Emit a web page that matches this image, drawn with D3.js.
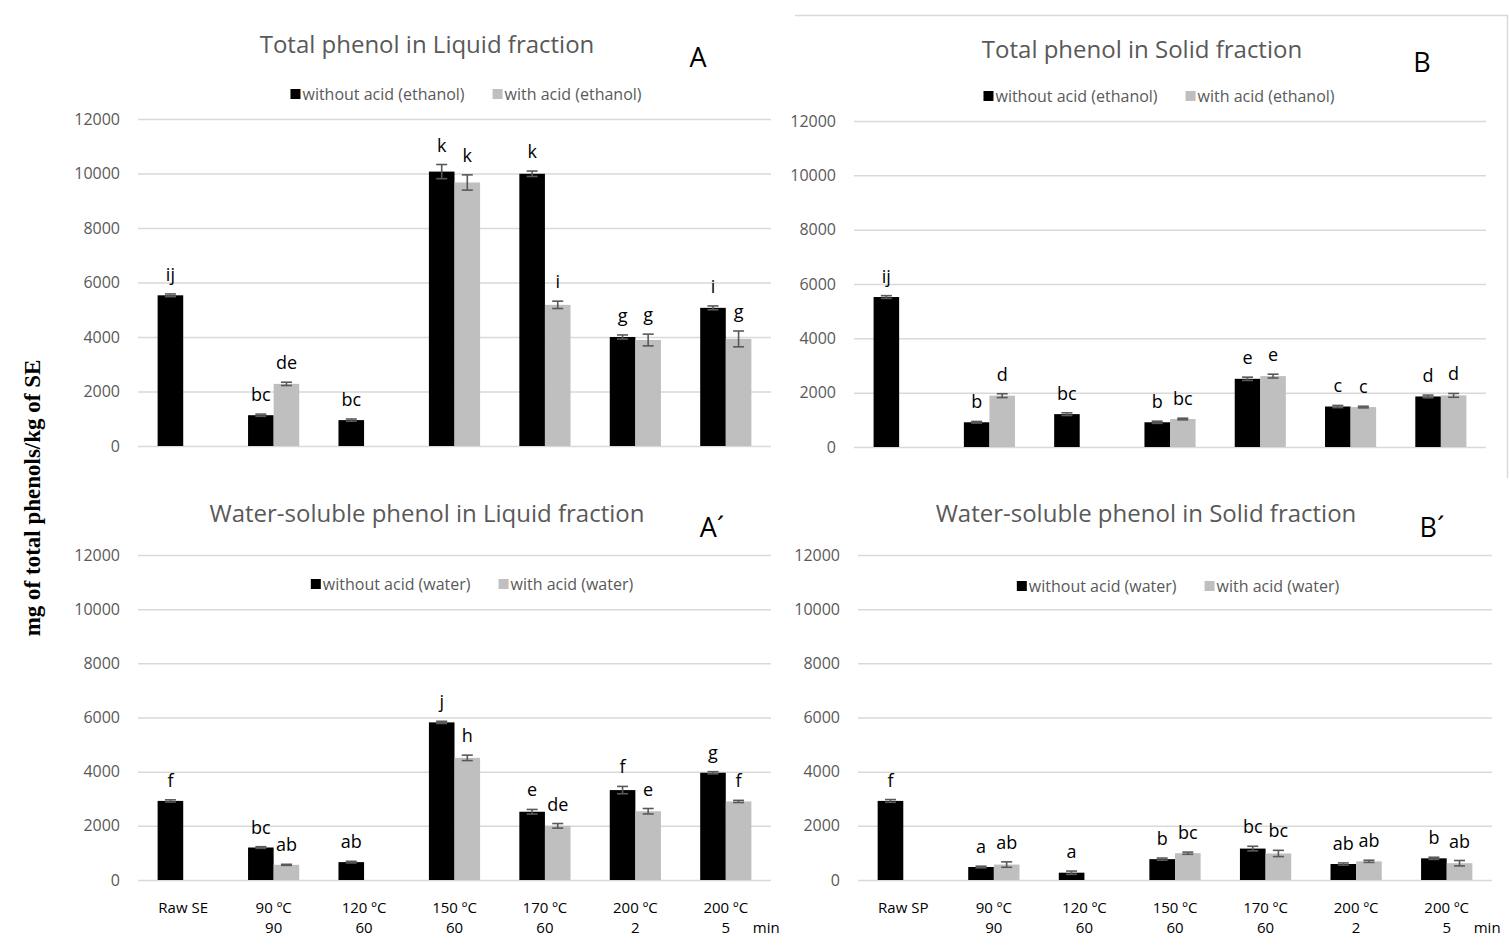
<!DOCTYPE html>
<html>
<head>
<meta charset="utf-8">
<script src="https://cdn.jsdelivr.net/npm/d3@7/dist/d3.min.js"></script>
<style>
  html, body { margin: 0; padding: 0; background: #fff; }
  svg { display: block; }
  text { font-family: "Open Sans", Lato, sans-serif; }
  text.axis-title { font-family: "Liberation Serif", "Times New Roman", serif; font-weight: bold; }
</style>
</head>
<body>
<svg id="chart" width="1509" height="945"></svg>
<script>
// Treatment categories (temperature / time in min)
const tempLabels = ["", "90 ºC", "120 ºC", "150 ºC", "170 ºC", "200 ºC", "200 ºC"];
const timeLabels = ["", "90", "60", "60", "60", "2", "5"];
const rawLabelLiquid = "Raw SE";
const rawLabelSolid = "Raw SP";
const yTicks = [0, 2000, 4000, 6000, 8000, 10000, 12000];

// A: total phenol, liquid fraction (ethanol)
const liquidTotalNoAcid    = [5530, 1130, 950, 10070, 9990, 4000, 5070];
const liquidTotalNoAcidSd  = [50, 40, 40, 260, 100, 75, 70];
const liquidTotalAcid      = [null, 2280, null, 9670, 5180, 3890, 3930];
const liquidTotalAcidSd    = [null, 60, null, 280, 135, 215, 290];
const liquidTotalNoAcidSig = ["ij", "bc", "bc", "k", "k", "g", "i"];
const liquidTotalAcidSig   = [null, "de", null, "k", "i", "g", "g"];

// B: total phenol, solid fraction (ethanol)
const solidTotalNoAcid    = [5520, 910, 1210, 910, 2510, 1490, 1860];
const solidTotalNoAcidSd  = [50, 30, 50, 40, 60, 40, 50];
const solidTotalAcid      = [null, 1890, null, 1030, 2610, 1470, 1900];
const solidTotalAcidSd    = [null, 70, null, 30, 70, 30, 70];
const solidTotalNoAcidSig = ["ij", "b", "bc", "b", "e", "c", "d"];
const solidTotalAcidSig   = [null, "d", null, "bc", "e", "c", "d"];

// A´: water-soluble phenol, liquid fraction
const liquidWaterNoAcid    = [2920, 1200, 660, 5820, 2520, 3320, 3960];
const liquidWaterNoAcidSd  = [40, 30, 30, 40, 85, 135, 40];
const liquidWaterAcid      = [null, 560, null, 4510, 2000, 2540, 2900];
const liquidWaterAcidSd    = [null, 20, null, 100, 85, 100, 40];
const liquidWaterNoAcidSig = ["f", "bc", "ab", "j", "e", "f", "g"];
const liquidWaterAcidSig   = [null, "ab", null, "h", "de", "e", "f"];

// B´: water-soluble phenol, solid fraction
const solidWaterNoAcid    = [2920, 480, 270, 770, 1160, 590, 800];
const solidWaterNoAcidSd  = [50, 30, 60, 40, 85, 40, 40];
const solidWaterAcid      = [null, 570, null, 990, 980, 690, 620];
const solidWaterAcidSd    = [null, 100, null, 40, 115, 40, 100];
const solidWaterNoAcidSig = ["f", "a", "a", "b", "bc", "ab", "b"];
const solidWaterAcidSig   = [null, "ab", null, "bc", "bc", "ab", "ab"];

const COLORS = { noAcid: "#000000", acid: "#bfbfbf", grid: "#d9d9d9", text: "#595959", err: "#595959" };

const panels = [
  { title: "Total phenol in Liquid fraction", tag: "A",
    legend: ["without acid (ethanol)", "with acid (ethanol)"],
    noAcid: liquidTotalNoAcid, noAcidSd: liquidTotalNoAcidSd, noAcidSig: liquidTotalNoAcidSig,
    acid: liquidTotalAcid, acidSd: liquidTotalAcidSd, acidSig: liquidTotalAcidSig,
    x0: 138, x1: 771, yTop: 119, yBottom: 446,
    titleX: 427, titleY: 53, tagX: 698, tagY: 67, legendCx: 466, legendY: 94, raw: null },
  { title: "Total phenol in Solid fraction", tag: "B",
    legend: ["without acid (ethanol)", "with acid (ethanol)"],
    noAcid: solidTotalNoAcid, noAcidSd: solidTotalNoAcidSd, noAcidSig: solidTotalNoAcidSig,
    acid: solidTotalAcid, acidSd: solidTotalAcidSd, acidSig: solidTotalAcidSig,
    x0: 854, x1: 1486, yTop: 121, yBottom: 447,
    titleX: 1142, titleY: 58, tagX: 1422, tagY: 72, legendCx: 1159, legendY: 96, raw: null },
  { title: "Water-soluble phenol in Liquid fraction", tag: "A´",
    legend: ["without acid (water)", "with acid (water)"],
    noAcid: liquidWaterNoAcid, noAcidSd: liquidWaterNoAcidSd, noAcidSig: liquidWaterNoAcidSig,
    acid: liquidWaterAcid, acidSd: liquidWaterAcidSd, acidSig: liquidWaterAcidSig,
    x0: 138, x1: 771, yTop: 555, yBottom: 880,
    titleX: 427, titleY: 522, tagX: 712, tagY: 537, legendCx: 472, legendY: 584, raw: rawLabelLiquid },
  { title: "Water-soluble phenol in Solid fraction", tag: "B´",
    legend: ["without acid (water)", "with acid (water)"],
    noAcid: solidWaterNoAcid, noAcidSd: solidWaterNoAcidSd, noAcidSig: solidWaterNoAcidSig,
    acid: solidWaterAcid, acidSd: solidWaterAcidSd, acidSig: solidWaterAcidSig,
    x0: 858, x1: 1492, yTop: 555, yBottom: 880,
    titleX: 1146, titleY: 522, tagX: 1432, tagY: 537, legendCx: 1178, legendY: 586, raw: rawLabelSolid }
];

const svg = d3.select("#chart");

// light frame around the upper-right chart
svg.append("path")
  .attr("d", "M795,15.5H1507.5V478")
  .attr("fill", "none").attr("stroke", COLORS.grid).attr("stroke-width", 1.5);

panels.forEach(p => {
  const g = svg.append("g");
  const idx = d3.range(tempLabels.length);
  const x = d3.scaleBand().domain(idx).range([p.x0, p.x1]).padding(0);
  const y = d3.scaleLinear().domain([0, 12000]).range([p.yBottom, p.yTop]);
  const bw = x.step() * 0.283;
  const cx = i => x(i) + x.bandwidth() / 2;

  // value axis with gridlines
  const yAxis = g.append("g")
    .attr("transform", `translate(${p.x0},0)`)
    .call(d3.axisLeft(y).tickValues(yTicks).tickFormat(d3.format("d"))
      .tickSizeInner(-(p.x1 - p.x0)).tickSizeOuter(0).tickPadding(18));
  yAxis.select(".domain").remove();
  yAxis.selectAll("line").attr("stroke", COLORS.grid).attr("stroke-width", 1.5);
  yAxis.selectAll("text").attr("fill", COLORS.text).attr("font-size", 16)
    .attr("font-family", null);

  // bars
  const series = [
    { vals: p.noAcid, sd: p.noAcidSd, sig: p.noAcidSig, color: COLORS.noAcid, off: -bw },
    { vals: p.acid, sd: p.acidSd, sig: p.acidSig, color: COLORS.acid, off: 0 }
  ];
  series.forEach(s => {
    const pts = idx.filter(i => s.vals[i] != null)
      .map(i => ({ i, v: s.vals[i], sd: s.sd[i], sig: s.sig[i] }));
    g.append("g").selectAll("rect").data(pts).join("rect")
      .attr("x", d => cx(d.i) + s.off)
      .attr("width", bw)
      .attr("y", d => y(d.v))
      .attr("height", d => y(0) - y(d.v))
      .attr("fill", s.color);

    const eb = g.append("g").attr("stroke", COLORS.err).attr("stroke-width", 1.6);
    pts.forEach(d => {
      const xm = cx(d.i) + s.off + bw / 2;
      const y1 = y(d.v + d.sd), y2 = y(d.v - d.sd);
      eb.append("line").attr("x1", xm).attr("x2", xm).attr("y1", y1).attr("y2", y2);
      eb.append("line").attr("x1", xm - 5.5).attr("x2", xm + 5.5).attr("y1", y1).attr("y2", y1);
      eb.append("line").attr("x1", xm - 5.5).attr("x2", xm + 5.5).attr("y1", y2).attr("y2", y2);
    });

    g.append("g").selectAll("text").data(pts).join("text")
      .attr("x", d => cx(d.i) + s.off + bw / 2)
      .attr("y", d => y(d.v + d.sd) - 13)
      .attr("text-anchor", "middle")
      .attr("font-size", 18).attr("fill", "#000")
      .text(d => d.sig);
  });

  // category labels
  if (p.raw) {
    const xl = g.append("g").attr("font-size", 15).attr("fill", "#000");
    idx.forEach(i => {
      const t = xl.append("text").attr("text-anchor", "middle").attr("x", cx(i)).attr("y", p.yBottom + 33);
      if (i === 0) {
        t.text(p.raw);
      } else {
        t.append("tspan").attr("x", cx(i)).text(tempLabels[i]);
        t.append("tspan").attr("x", cx(i)).attr("dy", 20).text(timeLabels[i]);
      }
    });
    xl.append("text").attr("x", cx(idx.length - 1) + 27).attr("y", p.yBottom + 53).text("min");
  }

  // title and panel tag
  g.append("text").attr("x", p.titleX).attr("y", p.titleY).attr("text-anchor", "middle")
    .attr("font-size", 24).attr("fill", COLORS.text).text(p.title);
  g.append("text").attr("x", p.tagX).attr("y", p.tagY).attr("text-anchor", "middle")
    .attr("font-size", 27).attr("fill", "#000").text(p.tag);

  // legend
  const lg = g.append("g").attr("font-size", 16).attr("fill", COLORS.text);
  let cursor = 0;
  const items = [{ label: p.legend[0], color: COLORS.noAcid }, { label: p.legend[1], color: COLORS.acid }];
  items.forEach((it, k) => {
    const item = lg.append("g").attr("transform", `translate(${cursor},0)`);
    item.append("rect").attr("x", 0).attr("y", -5).attr("width", 10).attr("height", 10).attr("fill", it.color);
    const tx = item.append("text").attr("x", 12).attr("y", 5.5).text(it.label);
    cursor += 12 + tx.node().getComputedTextLength() + (k === 0 ? 28 : 0);
  });
  lg.attr("transform", `translate(${p.legendCx - cursor / 2},${p.legendY})`);
});

// shared value-axis title
svg.append("text")
  .attr("class", "axis-title")
  .attr("transform", "translate(40,498) rotate(-90)")
  .attr("text-anchor", "middle")
  .attr("font-size", 23).attr("fill", "#000")
  .text("mg of total phenols/kg of SE");
</script>
</body>
</html>
